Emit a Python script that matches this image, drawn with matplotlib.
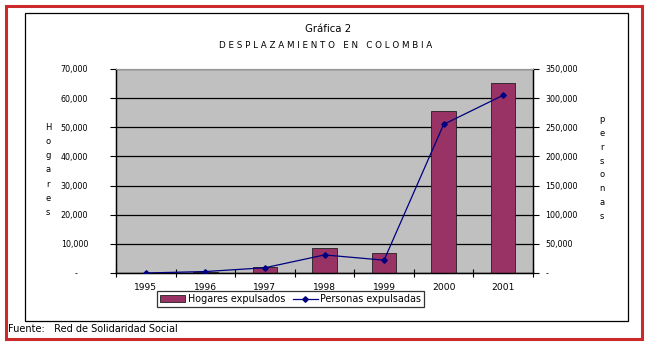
import matplotlib
matplotlib.use("Agg")
import matplotlib.pyplot as plt
from matplotlib.patches import Rectangle
from matplotlib.lines import Line2D
from matplotlib.patches import Patch
import numpy as np

years = ["1995", "1996", "1997", "1998", "1999", "2000", "2001"]
hogares = [0, 300, 2200, 8600, 6900, 55500, 65100]
personas = [0, 2500, 9000, 31000, 22000, 255000, 305000]
left_ticks = [0, 10000, 20000, 30000, 40000, 50000, 60000, 70000]
left_labels = ["-    ", "10,000", "20,000", "30,000", "40,000", "50,000", "60,000", "70,000"]
right_ticks = [0, 50000, 100000, 150000, 200000, 250000, 300000, 350000]
right_labels = ["-", "50,000", "100,000", "150,000", "200,000", "250,000", "300,000", "350,000"]

W, H = 651, 344
fig = plt.figure(figsize=(W / 100, H / 100), dpi=100)
plt.rcParams['font.family'] = ['DejaVu Sans']

def fx(x):
    return x / W

def fy(y):
    return 1 - y / H

# plot area
x0, x1, y0, y1 = 116, 533, 69, 273
ax = fig.add_axes([fx(x0), fy(y1), fx(x1 - x0), (y1 - y0) / H])
ax.set_facecolor("#c0c0c0")
xs = np.arange(len(years))
ax.bar(xs, hogares, width=0.41, color="#993366", edgecolor="#202020", linewidth=0.6, zorder=2)
ax.set_xlim(-0.5, len(years) - 0.5)
ax.set_ylim(0, 70000)
ax.set_yticks(left_ticks)
ax.set_yticklabels(left_labels, fontsize=5.8)
ax.yaxis.grid(True, color="black", linewidth=0.9)
ax.set_axisbelow(True)
ax.tick_params(axis="y", direction="out", length=4, pad=16, width=0.8)

ax.set_xticks(np.arange(-0.5, len(years), 1.0))
ax.set_xticklabels([])
ax.tick_params(axis="x", which="major", direction="inout", length=6, width=0.8)
ax.set_xticks(xs, minor=True)
ax.set_xticklabels(years, minor=True, fontsize=6.6)
ax.tick_params(axis="x", which="minor", length=0, pad=7)

for s in ["left", "bottom"]:
    ax.spines[s].set_color("black")
    ax.spines[s].set_linewidth(1)
ax.spines["top"].set_color("#9a9a9a")
ax.spines["right"].set_color("black")

ax2 = ax.twinx()
ax2.plot(xs, personas, color="#000080", linewidth=0.9, marker="D", markersize=2.8, zorder=3)
ax2.set_ylim(0, 350000)
ax2.set_yticks(right_ticks)
ax2.set_yticklabels(right_labels, fontsize=5.8)
ax2.tick_params(axis="y", direction="out", length=4, pad=5, width=0.8)
ax2.spines["right"].set_color("black")
ax2.spines["right"].set_linewidth(1)
ax2.spines["top"].set_color("#9a9a9a")
ax2.set_xlim(-0.5, len(years) - 0.5)

# axis titles (stacked letters)
fig.text(fx(48), fy(170), "\n".join("Hogares"), ha="center", va="center",
         fontsize=6, linespacing=1.75)
fig.text(fx(602), fy(168), "\n".join("personas"), ha="center", va="center",
         fontsize=6, linespacing=1.7)

# titles
fig.text(fx(328), fy(29), "Gráfica 2", ha="center", va="center", fontsize=7.3)
fig.text(fx(326), fy(46), "   ".join(" ".join(w) for w in "DESPLAZAMIENTO EN COLOMBIA".split()),
         ha="center", va="center", fontsize=6.3)

# legend
handles = [Patch(facecolor="#993366", edgecolor="#202020", linewidth=0.6),
           Line2D([0], [0], color="#000080", linewidth=0.9, marker="D", markersize=2.8)]
leg = fig.legend(handles, ["Hogares expulsados", "Personas expulsadas"],
                 loc="upper left", bbox_to_anchor=(fx(157), fy(291)), ncol=2,
                 fontsize=6.9, frameon=True, fancybox=False, shadow=False,
                 handlelength=2.6, handleheight=0.7, handletextpad=0.3, columnspacing=0.8,
                 borderpad=0.3, borderaxespad=0)
leg.get_frame().set_edgecolor("black")
leg.get_frame().set_linewidth(0.9)

# footer
fig.text(fx(8), fy(329), "Fuente:   Red de Solidaridad Social",
         ha="left", va="center", fontsize=7)

# inner box and red border
fig.add_artist(Rectangle((fx(25), fy(321)), fx(628 - 25), (321 - 13) / H,
                         transform=fig.transFigure, fill=False, edgecolor="black", linewidth=0.9))
fig.add_artist(Rectangle((fx(6.2), fy(338.6)), fx(641.6 - 6.2), (338.6 - 6.2) / H,
                         transform=fig.transFigure, fill=False, edgecolor="#cc2a2a", linewidth=2.2))

fig.savefig("out.png", dpi=100)
